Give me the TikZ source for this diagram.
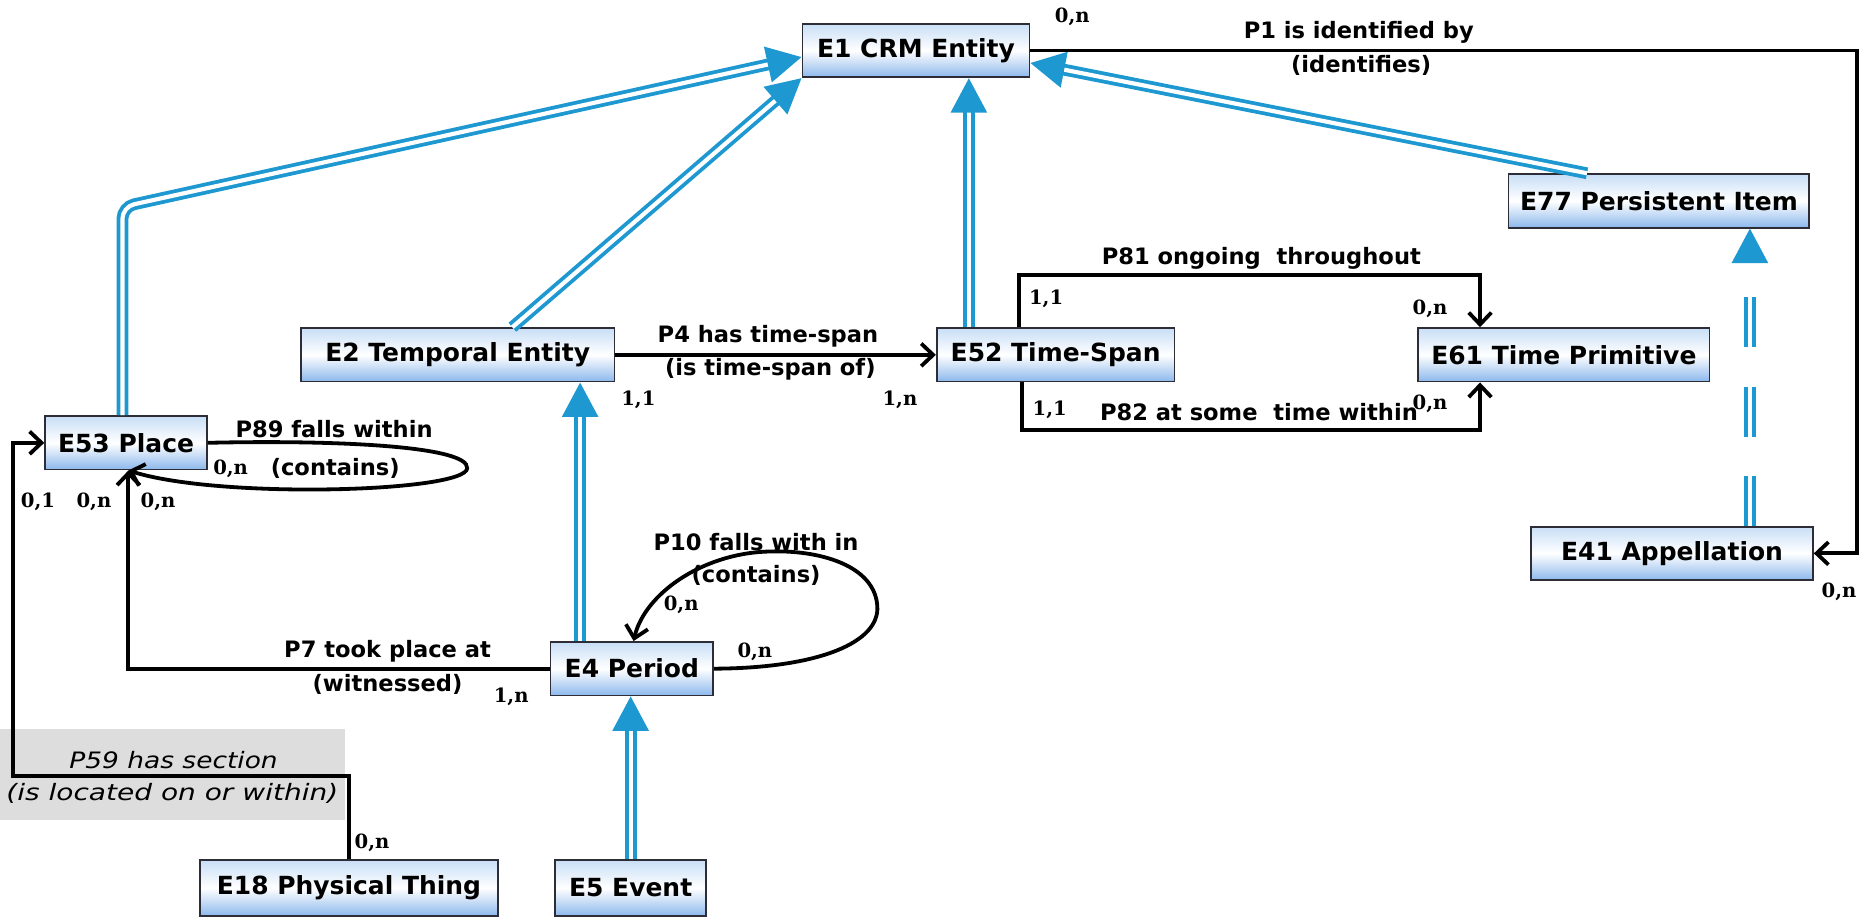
\documentclass[tikz,border=0pt]{standalone}
\usepackage{fontspec}
\usepackage{graphicx}
\setmainfont{DejaVu Sans}
\newfontfamily\cardff{DejaVu Serif}
\usetikzlibrary{arrows.meta}
\definecolor{isablue}{RGB}{30,152,208}
\definecolor{boxtop}{RGB}{200,222,246}
\definecolor{boxbot}{RGB}{140,184,236}
\definecolor{greybg}{RGB}{221,221,221}
\definecolor{boxline}{RGB}{45,45,55}
\begin{document}
\begin{tikzpicture}[x=1pt,y=-1pt,
  ent/.style={draw=boxline, line width=1.5pt, top color=boxtop, bottom color=boxbot, middle color=white,
    minimum height=45pt, inner sep=0pt, font=\fontsize{21}{25}\selectfont\bfseries},
  lab/.style={font=\fontsize{19}{22}\selectfont\bfseries, inner sep=0pt},
  ilab/.style={font=\fontsize{19}{22}\selectfont\itshape, inner sep=0pt},
  card/.style={font=\cardff\fontsize{16.5}{19}\selectfont\bfseries, inner sep=0pt},
  rel/.style={draw=black, line width=3.2pt, -{Straight Barb[length=10pt,width=19pt]}},
  isa/.style={draw=isablue, line width=3.2pt, double=white, double distance=3.5pt,
    -{Triangle[length=29pt,width=30pt]}},
  isadash/.style={isa, dash pattern=on 42pt off 33pt}
]
\useasboundingbox (0,0) rectangle (1568,773);

% grey background for P59 label
\fill[greybg] (0,613) rectangle (290,690);

% entity boxes
\node[ent, minimum width=191pt] (E1) at (770.5,42.5) {E1 CRM Entity};
\node[ent, minimum width=253pt] (E77) at (1395.5,169) {E77 Persistent Item};
\node[ent, minimum width=200pt] (E52) at (888,298.5) {E52 Time-Span};
\node[ent, minimum width=245pt] (E61) at (1315.5,298.5) {E61 Time Primitive};
\node[ent, minimum width=264pt] (E2) at (385,298.5) {E2 Temporal Entity};
\node[ent, minimum width=136pt] (E53) at (106,372.5) {E53 Place};
\node[ent, minimum width=237pt] (E41) at (1406.5,465.5) {E41 Appellation};
\node[ent, minimum width=137pt] (E4) at (531.5,562.5) {E4 Period};
\node[ent, minimum width=251pt, minimum height=47pt] (E18) at (293.5,747) {E18 Physical Thing};
\node[ent, minimum width=127pt, minimum height=47pt] (E5) at (530.5,747) {E5 Event};

% corner coordinates
\coordinate (k53) at (103,174);
\coordinate (k1a) at (1562,42.5);
\coordinate (k1b) at (1562,465.5);
\coordinate (k81a) at (857,231);
\coordinate (k81b) at (1245,231);
\coordinate (k82a) at (860,362);
\coordinate (k82b) at (1245,362);
\coordinate (k7) at (108,562.5);
\coordinate (k59a) at (293.5,653);
\coordinate (k59b) at (11,653);
\coordinate (k59c) at (11,372.5);
\coordinate (k89) at (393,394);
\coordinate (k10r) at (738,510);
\coordinate (k10t) at (645,464);

% is-a links (blue double)
\draw[isa] ([xshift=-73pt]E52.north) -- ([xshift=44.5pt]E1.south);
\draw[isa] ([xshift=-60.5pt]E77.north) -- ([yshift=-10.5pt]E1.east);
\draw[isa] ([xshift=46pt]E2.north) -- (E1.south west);
\draw[isa, rounded corners=10pt] ([xshift=-3pt]E53.north) -- (k53) -- ([yshift=-5.5pt]E1.west);
\draw[isa] ([xshift=-43.5pt]E4.north) -- ([xshift=103pt]E2.south);
\draw[isa] (E5.north) -- (E5.north |- E4.south);
\draw[isadash] ([xshift=65.5pt]E41.north) -- ([xshift=76.5pt]E77.south);

% properties (black)
\draw[rel] (E1.east) -- (k1a) -- (k1b) -- (E41.east);
\draw[rel] (E2.east) -- (E52.west);
\draw[rel] (E52.north -| k81a) -- (k81a) -- (k81b) -- (E61.north -| k81b);
\draw[rel] (E52.south -| k82a) -- (k82a) -- (k82b) -- (E61.south -| k82b);
\draw[rel] (E4.west) -- (k7) -- (E53.south -| k7);
\draw[rel] (E18.north) -- (k59a) -- (k59b) -- (k59c) -- (E53.west);
\draw[rel] (E53.east) .. controls (280,370) and (395,375) .. (k89)
  .. controls (391,414) and (185,420) .. ([xshift=2pt]E53.south);
\draw[rel] (E4.east) .. controls (690,562) and (740,540) .. (k10r)
  .. controls (736,476) and (690,462) .. (k10t)
  .. controls (590,466) and (542,500) .. ([xshift=1.5pt]E4.north);

% labels
\node[card] (c1) at (902,14) {0,n};
\node[lab] (l1a) at (1143,27) {P1 is identified by};
\node[lab] (l1b) at (1145,55) {(identifies)};
\node[card] (c2) at (1547,498) {0,n};

\node[lab] (l81) at (1061,217) {P81 ongoing\ \ throughout};
\node[card] (c3) at (880,251) {1,1};
\node[card] (c4) at (1203,260) {0,n};
\node[card] (c5) at (883,345) {1,1};
\node[lab] (l82) at (1059,347) {P82 at some\ \ time within};
\node[card] (c6) at (1203,340) {0,n};

\node[lab] (l4a) at (646,283) {P4 has time-span};
\node[lab] (l4b) at (648,311) {(is time-span of)};
\node[card] (c7) at (537,336) {1,1};
\node[card] (c8) at (757,336) {1,n};

\node[lab] (l89a) at (281,361) {P89 falls within};
\node[card] (c9) at (194,394) {0,n};
\node[lab] (l89b) at (282,394) {(contains)};
\node[card] (c10) at (32,422) {0,1};
\node[card] (c11) at (79,422) {0,n};
\node[card] (c12) at (133,422) {0,n};

\node[lab] (l10a) at (636,456) {P10 falls with in};
\node[lab] (l10b) at (636,484) {(contains)};
\node[card] (c13) at (573,509) {0,n};
\node[card] (c14) at (635,548) {0,n};

\node[lab] (l7a) at (326,548) {P7 took place at};
\node[lab] (l7b) at (326,576) {(witnessed)};
\node[card] (c15) at (430,586) {1,n};

\node[ilab] (l59a) at (146,639) {\scalebox{1.17}[1]{P59 has section}};
\node[ilab] (l59b) at (145,667) {\scalebox{1.24}[1]{(is located on or within)}};
\node[card] (c16) at (313,709) {0,n};
\end{tikzpicture}
\end{document}
